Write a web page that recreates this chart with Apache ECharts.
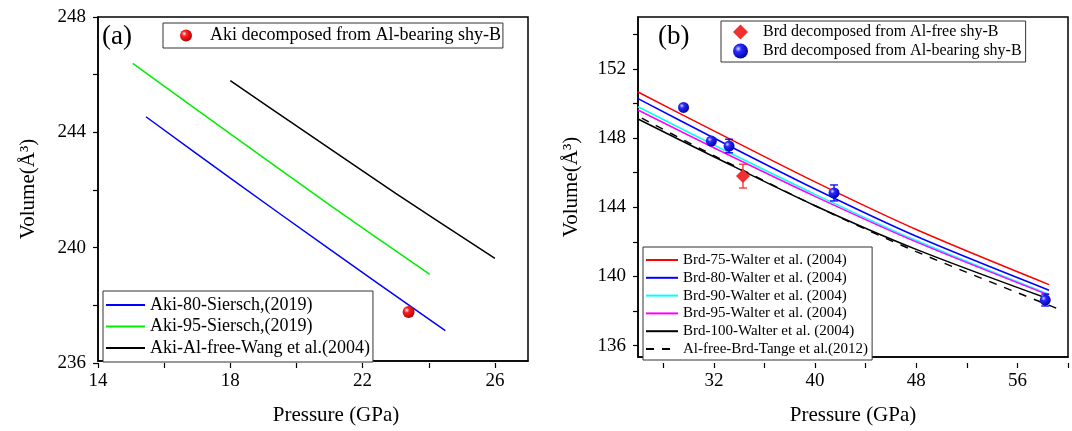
<!DOCTYPE html>
<html>
<head>
<meta charset="utf-8">
<script src="https://cdn.jsdelivr.net/npm/echarts@6/dist/echarts.min.js"></script>
<style>
  html, body { margin: 0; padding: 0; background: #fff; }
  #chart { width: 1072px; height: 431px; }
</style>
</head>
<body>
<div id="chart"></div>
<script>
// ---- panel (a): akimotoite ----
const aki80P = [15.45, 18, 21, 24.5];
const aki80V = [244.52, 242.38, 239.9, 237.06];
const aki95P = [15.05, 18, 21, 24.03];
const aki95V = [246.38, 243.92, 241.45, 239.02];
const akiWangP = [18.0, 20, 23, 26.0];
const akiWangV = [245.78, 244.2, 241.85, 239.58];
const akiObsP = [23.39];
const akiObsV = [237.71];

// ---- panel (b): bridgmanite ----
const brdP = [26, 32, 40, 48, 58.5];
const brd75V = [150.59, 148.3, 145.3, 142.5, 139.26];
const brd80V = [150.2, 147.88, 144.88, 142.1, 138.93];
const brd90V = [149.72, 147.47, 144.57, 141.85, 138.68];
const brd95V = [149.53, 147.31, 144.45, 141.77, 138.64];
const brd100V = [149.0, 146.78, 143.9, 141.33, 138.41];
const tangeP = [26.3, 32, 40, 48, 59.5];
const tangeV = [149.05, 146.85, 143.9, 141.2, 137.75];

const alFreeP = [34.3];
const alFreeV = [145.64];
const alFreeErr = [0.7];
const alBearP = [29.6, 31.8, 33.2, 41.5, 58.2];
const alBearV = [149.68, 147.70, 147.41, 144.65, 138.35];
const alBearErr = [0.1, 0.15, 0.4, 0.47, 0.35];

const FONT = 'Liberation Serif';

const boxA = { left: 98, top: 17, width: 430, height: 346 };
const boxB = { left: 638, top: 17, width: 430, height: 346 };

// grid carrying only the ticks, placed so its scale matches the data grid
function tickGrid(box, xr, yr, xt, yt) {
  const kx = box.width / (xr[1] - xr[0]);
  const ky = box.height / (yr[1] - yr[0]);
  const left = box.left + (xt[0] - xr[0]) * kx;
  const width = (xt[1] - xt[0]) * kx;
  const top = box.top + (yr[1] - yt[1]) * ky;
  const height = (yt[1] - yt[0]) * ky;
  return {
    grid: { left, top, width, height },
    xOffset: box.top + box.height - (top + height),
    yOffset: left - box.left
  };
}

const tA = tickGrid(boxA, [14, 27], [236, 248], [14, 26], [236, 248]);
const tB = tickGrid(boxB, [26, 60], [135, 155], [28, 60], [136, 154]);

const tickStyle = { show: true, length: 5, lineStyle: { color: '#000', width: 1.2 } };
const labelStyle = { color: '#000', fontFamily: FONT, fontSize: 19 };

function every(base, step) {
  return v => ((v - base) % step === 0 ? String(v) : '');
}

function dataAxis(grid, min, max, name, gap, extra) {
  return Object.assign({
    type: 'value', gridIndex: grid, min, max,
    axisLine: { show: true, lineStyle: { color: '#000', width: 1.5 } },
    axisTick: { show: false }, axisLabel: { show: false }, splitLine: { show: false },
    name, nameLocation: 'middle', nameGap: gap,
    nameTextStyle: { color: '#000', fontFamily: FONT, fontSize: 21 }
  }, extra || {});
}

function tickAxis(grid, min, max, interval, fmt, offset, margin) {
  return {
    type: 'value', gridIndex: grid, min, max, interval, offset,
    axisLine: { show: false }, axisTick: tickStyle,
    axisLabel: Object.assign({ formatter: fmt, margin }, labelStyle),
    splitLine: { show: false }
  };
}

function sphere(light, mid, dark) {
  return {
    type: 'radial', x: 0.35, y: 0.35, r: 0.7,
    colorStops: [{ offset: 0, color: light }, { offset: 0.3, color: mid }, { offset: 1, color: dark }]
  };
}

function line(name, P, V, color, xi, extra) {
  return Object.assign({
    name, type: 'line', xAxisIndex: xi, yAxisIndex: xi, symbol: 'none', smooth: 0.3,
    data: P.map((p, i) => [p, V[i]]),
    lineStyle: { color, width: 1.5 }, itemStyle: { color }, z: 2
  }, extra || {});
}

function errorBars(P, V, E, color, xi) {
  return {
    type: 'custom', xAxisIndex: xi, yAxisIndex: xi, silent: true, z: 3,
    data: P.map((p, i) => [p, V[i] - E[i], V[i] + E[i]]),
    renderItem: (params, api) => {
      const lo = api.coord([api.value(0), api.value(1)]);
      const hi = api.coord([api.value(0), api.value(2)]);
      const c = 4;
      const style = { stroke: color, lineWidth: 1.3 };
      return {
        type: 'group', children: [
          { type: 'line', shape: { x1: lo[0], y1: lo[1], x2: hi[0], y2: hi[1] }, style },
          { type: 'line', shape: { x1: lo[0] - c, y1: lo[1], x2: lo[0] + c, y2: lo[1] }, style },
          { type: 'line', shape: { x1: hi[0] - c, y1: hi[1], x2: hi[0] + c, y2: hi[1] }, style }
        ]
      };
    }
  };
}

const legendBase = {
  orient: 'vertical', selectedMode: false, backgroundColor: '#fff',
  borderColor: '#333', borderWidth: 1, borderRadius: 0
};

const chart = echarts.init(document.getElementById('chart'));
chart.setOption({
  animation: false,
  backgroundColor: '#fff',
  title: [
    { text: '(a)', left: 102, top: 23, padding: 0, textStyle: { fontFamily: FONT, fontSize: 27, fontWeight: 'normal', color: '#000' } },
    { text: '(b)', left: 658, top: 23, padding: 0, textStyle: { fontFamily: FONT, fontSize: 27, fontWeight: 'normal', color: '#000' } }
  ],
  grid: [
    Object.assign({ show: true, borderColor: '#000', borderWidth: 1.5, backgroundColor: 'transparent' }, boxA),
    tA.grid,
    Object.assign({ show: true, borderColor: '#000', borderWidth: 1.5, backgroundColor: 'transparent' }, boxB),
    tB.grid
  ],
  xAxis: [
    dataAxis(0, 14, 27, 'Pressure (GPa)', 44, { nameTextStyle: { color: '#000', fontFamily: FONT, fontSize: 21, padding: [0, 0, 0, 46] } }),
    tickAxis(1, 14, 26, 2, every(14, 4), tA.xOffset, 9),
    dataAxis(2, 26, 60, 'Pressure (GPa)', 48),
    tickAxis(3, 28, 60, 4, every(0, 8), tB.xOffset, 9)
  ],
  yAxis: [
    dataAxis(0, 236, 248, 'Volume(Å³)', 59),
    tickAxis(1, 236, 248, 2, every(236, 4), tA.yOffset, 12),
    dataAxis(2, 135, 155, 'Volume(Å³)', 56),
    tickAxis(3, 136, 154, 2, every(0, 4), tB.yOffset, 12)
  ],
  legend: [
    Object.assign({}, legendBase, {
      data: ['Aki decomposed from Al-bearing shy-B'], left: 163, top: 23,
      padding: [3.5, 2, 3.5, 17], itemWidth: 12, itemHeight: 12,
      textStyle: { fontFamily: FONT, fontSize: 18, color: '#000', padding: [0, 0, 0, 13] }
    }),
    Object.assign({}, legendBase, {
      data: ['Aki-80-Siersch,(2019)', 'Aki-95-Siersch,(2019)', 'Aki-Al-free-Wang et al.(2004)'],
      left: 103, top: 291, padding: [5, 3, 5, 2], itemGap: 3.5, itemWidth: 39, itemHeight: 12,
      itemStyle: { opacity: 0 },
      textStyle: { fontFamily: FONT, fontSize: 18, color: '#000' }
    }),
    Object.assign({}, legendBase, {
      data: ['Brd decomposed from Al-free shy-B', 'Brd decomposed from Al-bearing shy-B'],
      left: 721, top: 21, padding: [3, 4, 3, 12], itemGap: 3, itemWidth: 15, itemHeight: 15,
      textStyle: { fontFamily: FONT, fontSize: 16, color: '#000', padding: [0, 0, 0, 10] }
    }),
    Object.assign({}, legendBase, {
      data: ['Brd-75-Walter et al. (2004)', 'Brd-80-Walter et al. (2004)', 'Brd-90-Walter et al. (2004)',
        'Brd-95-Walter et al. (2004)', 'Brd-100-Walter et al. (2004)', 'Al-free-Brd-Tange et al.(2012)'],
      left: 643, top: 247, padding: [5.5, 4, 3.5, 2], itemGap: 2.8, itemWidth: 32, itemHeight: 12,
      itemStyle: { opacity: 0 },
      textStyle: { fontFamily: FONT, fontSize: 15, color: '#000' }
    })
  ],
  series: [
    line('Aki-80-Siersch,(2019)', aki80P, aki80V, '#0000ff', 0),
    line('Aki-95-Siersch,(2019)', aki95P, aki95V, '#00ee00', 0),
    line('Aki-Al-free-Wang et al.(2004)', akiWangP, akiWangV, '#000000', 0),
    {
      name: 'Aki decomposed from Al-bearing shy-B', type: 'scatter', xAxisIndex: 0, yAxisIndex: 0,
      symbol: 'circle', symbolSize: 12, z: 4,
      data: akiObsP.map((p, i) => [p, akiObsV[i]]),
      itemStyle: { color: sphere('#ffffff', '#ff2020', '#b00000'), opacity: 1 }
    },

    line('Brd-75-Walter et al. (2004)', brdP, brd75V, '#ff0000', 2),
    line('Brd-80-Walter et al. (2004)', brdP, brd80V, '#0000ff', 2),
    line('Brd-90-Walter et al. (2004)', brdP, brd90V, '#00ffff', 2),
    line('Brd-95-Walter et al. (2004)', brdP, brd95V, '#ff00ff', 2),
    line('Brd-100-Walter et al. (2004)', brdP, brd100V, '#000000', 2),
    line('Al-free-Brd-Tange et al.(2012)', tangeP, tangeV, '#000000', 2,
      { lineStyle: { color: '#000', width: 1.5, type: [8, 8] } }),
    errorBars(alFreeP, alFreeV, alFreeErr, '#ee3030', 2),
    errorBars(alBearP, alBearV, alBearErr, '#0000ee', 2),
    {
      name: 'Brd decomposed from Al-free shy-B', type: 'scatter', xAxisIndex: 2, yAxisIndex: 2,
      symbol: 'diamond', symbolSize: 14, z: 4,
      data: alFreeP.map((p, i) => [p, alFreeV[i]]),
      itemStyle: { color: '#f03030', opacity: 1 }
    },
    {
      name: 'Brd decomposed from Al-bearing shy-B', type: 'scatter', xAxisIndex: 2, yAxisIndex: 2,
      symbol: 'circle', symbolSize: 11, z: 4,
      data: alBearP.map((p, i) => [p, alBearV[i]]),
      itemStyle: { color: sphere('#d8d8ff', '#2a2aff', '#0000a0'), opacity: 1 }
    }
  ]
});
</script>
</body>
</html>
